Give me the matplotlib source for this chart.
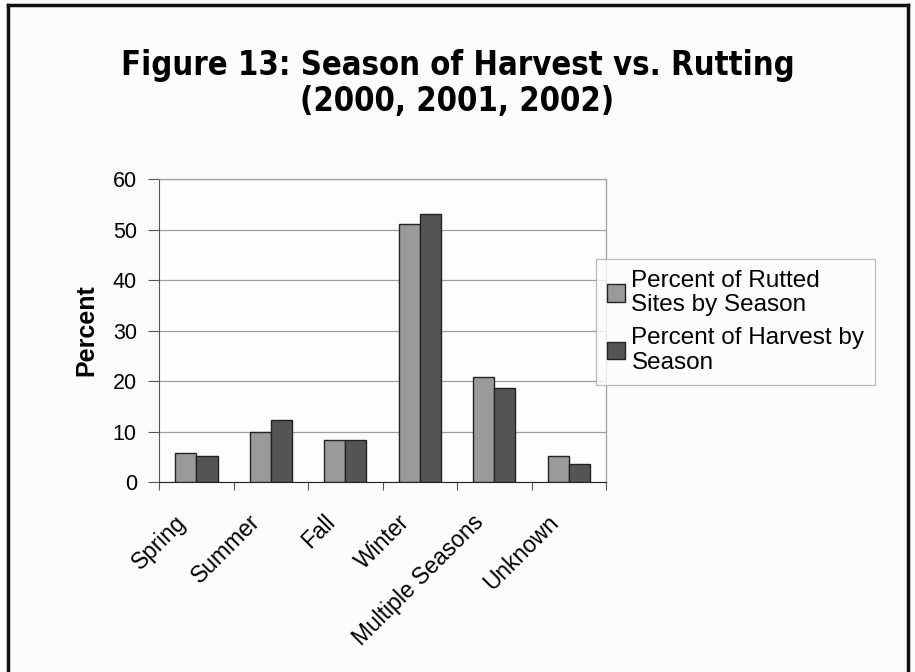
import numpy as np
import matplotlib
matplotlib.use('Agg')
import matplotlib.pyplot as plt
from matplotlib.lines import Line2D
from matplotlib.transforms import ScaledTranslation

# data
seasons = ['Spring', 'Summer', 'Fall', 'Winter', 'Multiple Seasons', 'Unknown']
rutted = [5.8, 9.9, 8.4, 51.0, 20.7, 5.2]
harvest = [5.1, 12.2, 8.4, 53.1, 18.7, 3.5]
series_labels = ['Percent of Rutted\nSites by Season', 'Percent of Harvest by\nSeason']
y_ticks = [0, 10, 20, 30, 40, 50, 60]

plt.rcParams['font.family'] = ['Liberation Sans', 'DejaVu Sans']

fig = plt.figure(figsize=(9.15, 6.72), dpi=100)
fig.patch.set_facecolor('#fbfbfb')
ax = fig.add_axes([0.1738, 0.2827, 0.4885, 0.4509])
ax.set_facecolor('#fdfdfd')

x = np.arange(len(seasons))
w = 0.285
ax.bar(x - w / 2, rutted, w, color='#9a9a9a', edgecolor='#222222', linewidth=1.0,
       label=series_labels[0], zorder=3)
ax.bar(x + w / 2, harvest, w, color='#555555', edgecolor='#222222', linewidth=1.0,
       label=series_labels[1], zorder=3)

ax.set_xlim(-0.5, len(seasons) - 0.5)
ax.set_ylim(0, 60)
ax.set_yticks(y_ticks)
ax.set_yticklabels([str(t) for t in y_ticks], fontsize=15.5)
ax.yaxis.grid(True, color='#a0a0a0', linewidth=0.9, zorder=0)
ax.tick_params(axis='y', length=8, width=0.8, color='#555555', pad=8)

ax.set_xticks(x)
ax.set_xticklabels(seasons, rotation=45, ha='right', rotation_mode='anchor', fontsize=16.5)
ax.tick_params(axis='x', which='major', length=0, pad=20.5)
ax.set_xticks(np.arange(len(seasons) + 1) - 0.5, minor=True)
ax.tick_params(axis='x', which='minor', length=6, width=0.8, color='#555555')
for lbl in ax.get_xticklabels():
    lbl.set_transform(lbl.get_transform() + ScaledTranslation(-0.22, 0, fig.dpi_scale_trans))

for s in ['top', 'right']:
    ax.spines[s].set_color('#a0a0a0')
    ax.spines[s].set_linewidth(0.9)
ax.spines['left'].set_color('#555555')
ax.spines['bottom'].set_color('#222222')

ax.set_ylabel('Percent', fontsize=18, fontweight='bold', labelpad=10)

leg = ax.legend(loc='upper left', bbox_to_anchor=(0.978, 0.737), fontsize=17.5,
                frameon=True, fancybox=False, edgecolor='#aaaaaa', facecolor='#fdfdfd',
                handlelength=0.75, handleheight=0.75, handletextpad=0.25,
                labelspacing=0.45, borderpad=0.45, borderaxespad=0)
leg.get_frame().set_linewidth(0.9)
for t in leg.get_texts():
    t.set_linespacing(1.15)

fig.text(0.5, 0.876, 'Figure 13: Season of Harvest vs. Rutting\n(2000, 2001, 2002)',
         ha='center', va='center', fontsize=23.5, fontweight='bold',
         fontstretch='condensed', family=['DejaVu Sans'], linespacing=1.1)

# page border
fig.add_artist(Line2D([0.009, 0.009], [0.0, 0.993], transform=fig.transFigure, color='#111111', lw=2.5))
fig.add_artist(Line2D([0.009, 0.992], [0.993, 0.993], transform=fig.transFigure, color='#111111', lw=2.5))
fig.add_artist(Line2D([0.992, 0.992], [0.0, 0.993], transform=fig.transFigure, color='#111111', lw=2.5))

fig.savefig('out.png', dpi=100, facecolor=fig.get_facecolor())
